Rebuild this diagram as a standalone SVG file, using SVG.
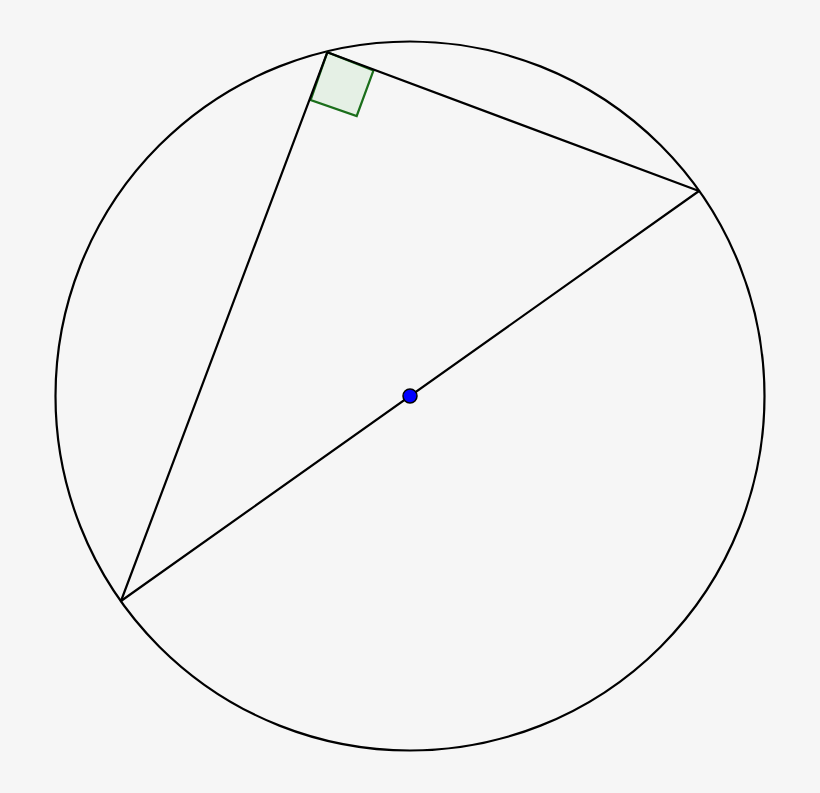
<svg xmlns="http://www.w3.org/2000/svg" width="820" height="793" viewBox="0 0 820 793">
<style>
.ln{fill:none;stroke:#000;stroke-width:2.2;stroke-linecap:round;stroke-linejoin:round}
</style>
<rect width="820" height="793" fill="#f6f6f6"/>
<g id="circle"><circle cx="410" cy="396" r="354.5" class="ln"/></g>
<g id="right-angle"><polygon points="327.3,52.3 373.5,70.5 356.7,116 310.7,100" fill="#e5f0e5" stroke="#1a6e1a" stroke-width="2.2" stroke-linejoin="miter"/></g>
<g id="connectors">
<line x1="327.3" y1="52.3" x2="699" y2="191" class="ln"/>
<line x1="327.3" y1="52.3" x2="121" y2="601" class="ln"/>
<line x1="121" y1="601" x2="699" y2="191" class="ln"/>
</g>
<g id="center"><circle cx="410" cy="396" r="7" fill="#0000ff" stroke="#000" stroke-width="1.5"/></g>
</svg>
